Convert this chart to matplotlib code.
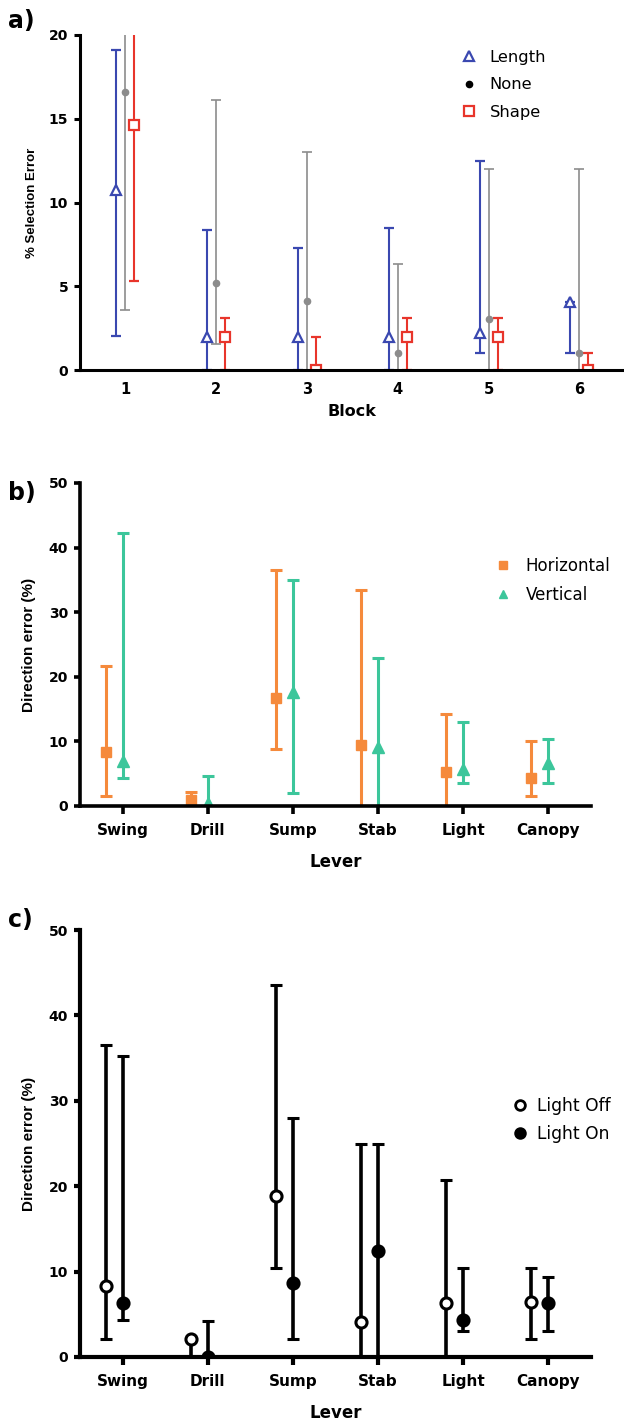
import matplotlib
matplotlib.use("Agg")
import matplotlib.pyplot as plt
from matplotlib.lines import Line2D
import numpy as np

plt.rcParams['font.family'] = ['DejaVu Sans']

# ---------------- Panel a data ----------------
blocks = [1, 2, 3, 4, 5, 6]
length_mean = [10.75, 2.0, 2.0, 2.0, 2.2, 4.05]
length_low = [2.05, 0.0, 0.0, 0.0, 1.0, 1.0]
length_high = [19.1, 8.35, 7.3, 8.45, 12.5, 4.05]
none_mean = [16.6, 5.2, 4.1, 1.0, 3.05, 1.0]
none_low = [3.6, 1.55, 0.0, 0.0, 0.0, 0.0]
none_high = [21.0, 16.1, 13.0, 6.3, 12.0, 12.0]
shape_mean = [14.6, 2.0, 0.0, 2.0, 2.0, 0.0]
shape_low = [5.3, 0.0, 0.0, 0.0, 0.0, 0.0]
shape_high = [21.0, 3.1, 2.0, 3.1, 3.1, 1.0]

# ---------------- Panel b / c data ----------------
levers = ["Swing", "Drill", "Sump", "Stab", "Light", "Canopy"]
horiz_mean = [8.3, 0.9, 16.7, 9.5, 5.3, 4.3]
horiz_low = [1.5, 0.0, 8.9, 0.0, 0.0, 1.5]
horiz_high = [21.6, 2.1, 36.5, 33.5, 14.3, 10.0]
vert_mean = [7.0, 0.5, 17.6, 9.1, 5.7, 6.6]
vert_low = [4.4, 0.0, 2.0, 0.0, 3.5, 3.5]
vert_high = [42.2, 4.6, 35.0, 22.9, 13.0, 10.4]

off_mean = [8.3, 2.1, 18.9, 4.1, 6.3, 6.4]
off_low = [2.1, 0.0, 10.4, 0.0, 0.0, 2.1]
off_high = [36.5, 2.1, 43.6, 25.0, 20.7, 10.4]
on_mean = [6.3, 0.0, 8.7, 12.4, 4.3, 6.3]
on_low = [4.3, 0.0, 2.1, 0.0, 3.1, 3.1]
on_high = [35.3, 4.2, 28.0, 25.0, 10.4, 9.4]

BLUE = "#3a48b0"
GRAY = "#8c8c8c"
RED = "#e8352b"
ORANGE = "#f58a3c"
TEAL = "#3cc69b"

YLAB_FONT = ['Liberation Sans', 'DejaVu Sans']

W, H = 624, 1426
fig = plt.figure(figsize=(W / 100, H / 100), dpi=100)


def rect(l, r, t, b):
    return [l / W, 1 - b / H, (r - l) / W, (b - t) / H]


def yerr(mean, low, high):
    m = np.asarray(mean, float)
    return [m - np.asarray(low, float), np.asarray(high, float) - m]


def style_axes(ax, spine_w, ytick_len, xtick_len, xsize):
    for s in ['top', 'right']:
        ax.spines[s].set_visible(False)
    for s in ['left', 'bottom']:
        ax.spines[s].set_linewidth(spine_w)
        ax.spines[s].set_color('black')
    ax.tick_params(axis='y', length=ytick_len, width=spine_w, pad=4,
                   labelsize=10, direction='out')
    ax.tick_params(axis='x', length=xtick_len, width=spine_w, direction='out',
                   labelsize=xsize)
    for lab in ax.get_yticklabels() + ax.get_xticklabels():
        lab.set_fontweight('bold')


# ================= Panel a =================
axa = fig.add_axes(rect(80, 623, 35, 370))
x = np.arange(len(blocks)) + 1.0
axa.errorbar(x - 0.1, length_mean, yerr=yerr(length_mean, length_low, length_high),
             fmt='^', color=BLUE, mfc='white', mec=BLUE, ms=6.5, mew=1.6,
             ecolor=BLUE, elinewidth=1.5, capsize=3.5, capthick=1.5)
axa.errorbar(x, none_mean, yerr=yerr(none_mean, none_low, none_high),
             fmt='o', color=GRAY, mfc=GRAY, mec=GRAY, ms=4.5,
             ecolor=GRAY, elinewidth=1.2, capsize=3.5, capthick=1.2)
axa.errorbar(x + 0.1, shape_mean, yerr=yerr(shape_mean, shape_low, shape_high),
             fmt='s', color=RED, mfc='white', mec=RED, ms=6.5, mew=1.6,
             ecolor=RED, elinewidth=1.5, capsize=3.5, capthick=1.5)
axa.set_xlim(0.5, 6.48)
axa.set_ylim(0, 20)
axa.set_yticks([0, 5, 10, 15, 20])
axa.set_xticks(x)
axa.set_xticklabels([str(b) for b in blocks])
style_axes(axa, 2.2, 4.5, 0, 10.5)
axa.tick_params(axis='x', pad=9)
axa.set_xlabel("Block", fontsize=11.5, fontweight='bold', labelpad=5)
axa.set_ylabel("% Selection Error", fontsize=9.5, fontweight='bold', labelpad=8,
               family=YLAB_FONT)
ha = [Line2D([], [], marker='^', ls='none', mec=BLUE, mfc='white', ms=6.5, mew=1.6),
      Line2D([], [], marker='o', ls='none', mec='black', mfc='black', ms=4.5),
      Line2D([], [], marker='s', ls='none', mec=RED, mfc='white', ms=6.5, mew=1.6)]
axa.legend(ha, ["Length", "None", "Shape"], loc='upper left',
           bbox_to_anchor=((461 - 80) / 543, (370 - 50) / 335), frameon=False,
           fontsize=11.8, handlelength=1.0, handletextpad=0.75, labelspacing=0.75,
           borderpad=0, borderaxespad=0)
fig.text(8 / W, 1 - 21 / H, "a)", fontsize=17, fontweight='bold', va='center', ha='left')

# ================= Panel b =================
axb = fig.add_axes(rect(80, 591, 483, 806))
xc = np.arange(len(levers), dtype=float)
axb.errorbar(xc - 0.2, horiz_mean, yerr=yerr(horiz_mean, horiz_low, horiz_high),
             fmt='s', color=ORANGE, mfc=ORANGE, mec=ORANGE, ms=7.5,
             ecolor=ORANGE, elinewidth=2.2, capsize=4.3, capthick=2.2)
axb.errorbar(xc, vert_mean, yerr=yerr(vert_mean, vert_low, vert_high),
             fmt='^', color=TEAL, mfc=TEAL, mec=TEAL, ms=8,
             ecolor=TEAL, elinewidth=2.2, capsize=4.3, capthick=2.2)
axb.set_xlim(-0.5, 5.5)
axb.set_ylim(0, 50)
axb.set_yticks([0, 10, 20, 30, 40, 50])
axb.set_xticks(xc)
axb.set_xticklabels(levers)
style_axes(axb, 2.6, 4.5, 6, 11)
axb.tick_params(axis='x', pad=6)
axb.set_xlabel("Lever", fontsize=12, fontweight='bold', labelpad=11)
axb.set_ylabel("Direction error (%)", fontsize=11, fontweight='bold', labelpad=9,
               family=YLAB_FONT)
hb = [Line2D([], [], marker='s', ls='none', mec=ORANGE, mfc=ORANGE, ms=6),
      Line2D([], [], marker='^', ls='none', mec=TEAL, mfc=TEAL, ms=6)]
axb.legend(hb, ["Horizontal", "Vertical"], loc='upper left',
           bbox_to_anchor=((495 - 80) / 511, (806 - 557) / 323), frameon=False,
           fontsize=12, handlelength=1.0, handletextpad=0.85, labelspacing=0.65,
           borderpad=0, borderaxespad=0)
fig.text(8 / W, 1 - 493 / H, "b)", fontsize=17, fontweight='bold', va='center', ha='left')

# ================= Panel c =================
axc = fig.add_axes(rect(80, 591, 930, 1357))
axc.errorbar(xc - 0.2, off_mean, yerr=yerr(off_mean, off_low, off_high),
             fmt='o', color='black', mfc='white', mec='black', ms=8, mew=2.2,
             ecolor='black', elinewidth=2.6, capsize=4.3, capthick=2.6)
axc.errorbar(xc, on_mean, yerr=yerr(on_mean, on_low, on_high),
             fmt='o', color='black', mfc='black', mec='black', ms=8, mew=2.2,
             ecolor='black', elinewidth=2.6, capsize=4.3, capthick=2.6)
axc.set_xlim(-0.5, 5.5)
axc.set_ylim(0, 50)
axc.set_yticks([0, 10, 20, 30, 40, 50])
axc.set_xticks(xc)
axc.set_xticklabels(levers)
style_axes(axc, 3.0, 4.5, 6, 11)
axc.tick_params(axis='x', pad=6)
axc.set_xlabel("Lever", fontsize=12, fontweight='bold', labelpad=11)
axc.set_ylabel("Direction error (%)", fontsize=11, fontweight='bold', labelpad=9,
               family=YLAB_FONT)
hc = [Line2D([], [], marker='o', ls='none', mec='black', mfc='white', ms=7, mew=2),
      Line2D([], [], marker='o', ls='none', mec='black', mfc='black', ms=7, mew=2)]
axc.legend(hc, ["Light Off", "Light On"], loc='upper left',
           bbox_to_anchor=((511 - 80) / 511, (1357 - 1097) / 427), frameon=False,
           fontsize=12.3, handlelength=1.0, handletextpad=0.55, labelspacing=0.6,
           borderpad=0, borderaxespad=0)
fig.text(8 / W, 1 - 920 / H, "c)", fontsize=17, fontweight='bold', va='center', ha='left')

fig.savefig("out.png", dpi=100)
